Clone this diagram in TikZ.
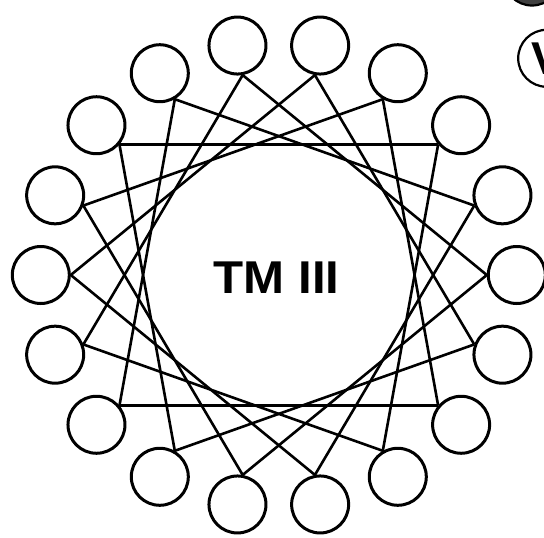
\documentclass[tikz,border=0pt]{standalone}
\usepackage{fontspec}
\setsansfont{Liberation Sans}
\usetikzlibrary{positioning}
\begin{document}
\begin{tikzpicture}[x=1pt, y=1pt,
  res/.style={draw, circle, line width=3pt, minimum size=57pt, inner sep=0pt, fill=white},
  link/.style={line width=2.6pt},
  big/.style={font=\sffamily\bfseries\fontsize{46}{46}\selectfont}]
  \useasboundingbox (0,-538) rectangle (544,0);
  \foreach \k in {0,...,17}
    \node[res] (c\k) at ({278.8+238*cos(\k*20)},{-275+233*sin(\k*20)}) {};
  \foreach \k in {0,...,17} {
    \pgfmathtruncatemacro\j{mod(\k+5,18)}
    \pgfmathtruncatemacro\a{mod(\k*20+180,360)}
    \pgfmathtruncatemacro\b{mod(\j*20+180,360)}
    \draw[link] (c\k.\a) -- (c\j.\b);
  }
  \node[big] (tm) at (276.5,-277.5) {\scalebox{1.07}[1]{TM III}};
  \node[res, line width=2.2pt, fill=black!75] (next) at (532,23) {};
  \node[res, line width=2.2pt, big] (val) at (546.7,-58.3) {V};
\end{tikzpicture}
\end{document}
